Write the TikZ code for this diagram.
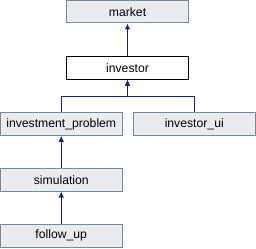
\documentclass[tikz,border=0pt]{standalone}
\usepackage{fontspec}
\setmainfont{Liberation Sans}
\usetikzlibrary{arrows.meta}
\begin{document}
\begin{tikzpicture}[x=1pt, y=-1pt, line cap=butt, line join=miter]
  \definecolor{boxfill}{RGB}{232,236,239}
  \definecolor{boxedge}{RGB}{122,138,156}
  \definecolor{linkblue}{RGB}{18,28,140}
  \tikzset{
    classbox/.style={draw=boxedge, fill=boxfill, line width=1pt, minimum width=121.5pt,
      minimum height=22.5pt, inner sep=0pt, font=\fontsize{12.2}{14}\selectfont},
    link/.style={draw=linkblue, line width=1.2pt, -{Latex[length=6pt,width=5.5pt]}}
  }
  \useasboundingbox (0,0) rectangle (256,248);
  \node[classbox] (market) at (127.5,11.75) {market};
  \node[classbox, fill=white, draw=black] (investor) at (127.5,68) {investor};
  \node[classbox] (problem) at (61.25,124) {investment\_problem};
  \node[classbox] (ui) at (194.25,124) {investor\_ui};
  \node[classbox] (simulation) at (61.25,179.75) {simulation};
  \node[classbox] (followup) at (61.25,235.75) {follow\_up};
  \coordinate (fork) at (127.5,96.5);
  \draw[link] (investor) -- (market);
  \draw[link] (problem.north) |- (fork) -- (investor.south);
  \draw[link] (ui.north) |- (fork) -- (investor.south);
  \draw[link] (simulation) -- (problem);
  \draw[link] (followup) -- (simulation);
\end{tikzpicture}
\end{document}
